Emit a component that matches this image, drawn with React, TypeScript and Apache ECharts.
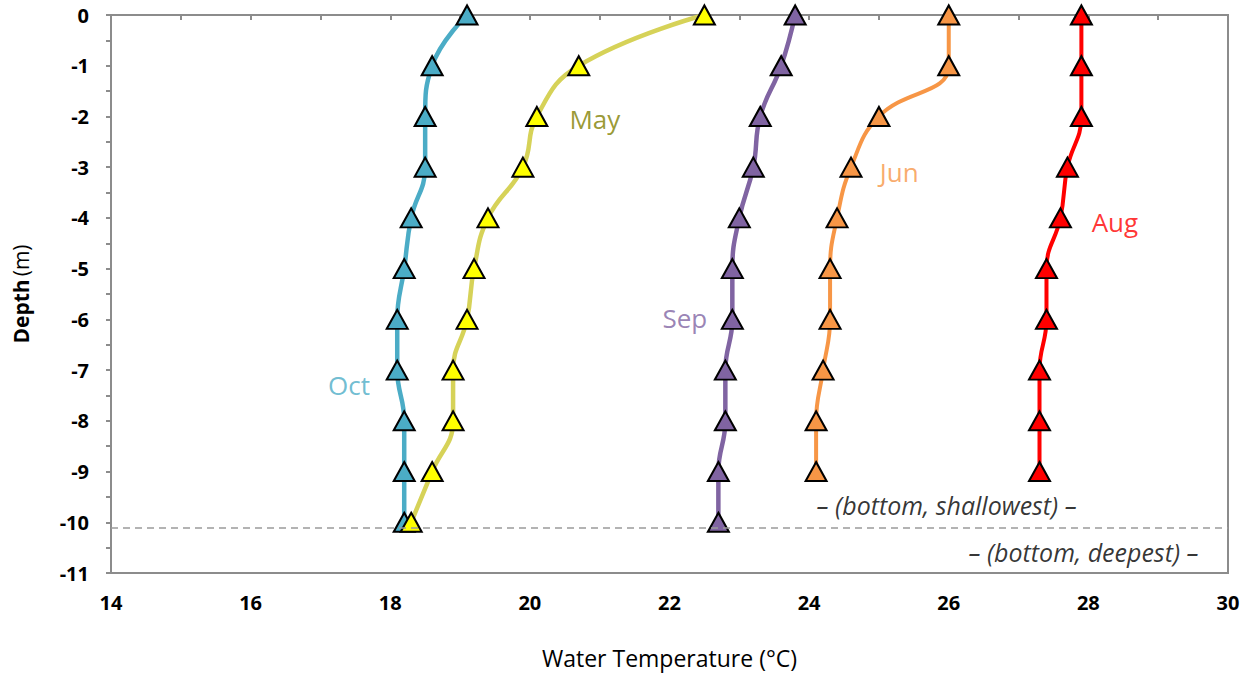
import React, { useEffect, useRef } from "react";
import * as echarts from "echarts";

const depths = [0, -1, -2, -3, -4, -5, -6, -7, -8, -9, -10];
const octTemps = [19.1, 18.6, 18.5, 18.5, 18.3, 18.2, 18.1, 18.1, 18.2, 18.2, 18.2];
const mayTemps = [22.5, 20.7, 20.1, 19.9, 19.4, 19.2, 19.1, 18.9, 18.9, 18.6, 18.3];
const sepTemps = [23.8, 23.6, 23.3, 23.2, 23.0, 22.9, 22.9, 22.8, 22.8, 22.7, 22.7];
const junTemps = [26.0, 26.0, 25.0, 24.6, 24.4, 24.3, 24.3, 24.2, 24.1, 24.1];
const augTemps = [27.9, 27.9, 27.9, 27.7, 27.6, 27.4, 27.4, 27.3, 27.3, 27.3];

const seriesNames = ["Oct", "May", "Sep", "Jun", "Aug"];
const seriesTemps = [octTemps, mayTemps, sepTemps, junTemps, augTemps];
const lineColors = ["#4BACC6", "#D6D258", "#8064A2", "#F79646", "#FF0000"];
const markerColors = ["#4BACC6", "#FFFF00", "#8064A2", "#F79646", "#FF0000"];
const labelColors = ["#4BACC6", "#808000", "#8064A2", "#F79646", "#FF0000"];
const labelPositions: [number, number][] = [
  [17.41, -7.3],
  [20.93, -2.05],
  [22.22, -5.98],
  [25.29, -3.1],
  [28.38, -4.08],
];

const bottomShallowDepth = -10.1;
const notes = ["– (bottom, shallowest) –", "– (bottom, deepest) –"];
const notePositions: [number, number][] = [
  [25.97, -9.66],
  [27.93, -10.59],
];

const FONT = "'Open Sans', Lato, sans-serif";

export default function App() {
  const ref = useRef<HTMLDivElement>(null);
  useEffect(() => {
    if (!ref.current) return;
    document.body.style.margin = "0";
    const chart = echarts.init(ref.current, undefined, { renderer: "svg" });
    const axisGray = "#8C8C8C";

    const lineSeries: any[] = seriesNames.map((name, i) => ({
      name,
      type: "line",
      data: seriesTemps[i].map((t, j) => [t, depths[j]]),
      smooth: 0.45,
      symbol: "triangle",
      symbolSize: [21, 19],
      lineStyle: { color: lineColors[i], width: i >= 3 ? 4 : 4.5 },
      itemStyle: { color: markerColors[i], borderColor: "#000", borderWidth: 2 },
      z: 3,
    }));

    lineSeries[0].markLine = {
      silent: true,
      symbol: "none",
      label: { show: false },
      lineStyle: { type: [7, 5], color: "#9A9A9A", width: 1.5 },
      data: [{ yAxis: bottomShallowDepth }],
    };

    const labelSeries = {
      type: "scatter",
      silent: true,
      symbolSize: 1,
      itemStyle: { color: "transparent" },
      z: 5,
      data: seriesNames.map((n, i) => ({
        value: labelPositions[i],
        label: {
          show: true,
          position: "inside",
          formatter: n,
          color: labelColors[i],
          fontSize: 26,
          fontFamily: FONT,
        },
      })),
    };

    const noteSeries = {
      type: "scatter",
      silent: true,
      symbolSize: 1,
      itemStyle: { color: "transparent" },
      z: 5,
      data: notes.map((n, i) => ({
        value: notePositions[i],
        label: {
          show: true,
          position: "inside",
          formatter: n,
          color: "#000",
          fontSize: 25,
          fontStyle: "italic",
          fontFamily: FONT,
        },
      })),
    };

    chart.setOption({
      animation: false,
      backgroundColor: "#fff",
      grid: {
        left: 111,
        right: 24,
        top: 15,
        bottom: 103,
        show: true,
        borderColor: axisGray,
        borderWidth: 2,
        containLabel: false,
      },
      xAxis: {
        type: "value",
        min: 14,
        max: 30,
        interval: 2,
        name: "Water Temperature (°C)",
        nameLocation: "middle",
        nameGap: 73,
        nameTextStyle: { fontSize: 23, color: "#000", fontFamily: FONT },
        axisLine: { show: true, lineStyle: { color: axisGray, width: 2 } },
        axisTick: { show: true, length: 5, lineStyle: { color: axisGray, width: 2 } },
        minorTick: { show: true, splitNumber: 2, length: 5, lineStyle: { color: axisGray, width: 2 } },
        splitLine: { show: false },
        axisLabel: { fontSize: 20, fontWeight: "bold", color: "#000", margin: 19, fontFamily: FONT },
      },
      yAxis: {
        type: "value",
        min: -11,
        max: 0,
        interval: 1,
        name: "{b|Depth} {r|(m)}",
        nameLocation: "middle",
        nameGap: 80,
        nameRotate: 90,
        nameTextStyle: {
          color: "#000",
          fontFamily: FONT,
          rich: {
            b: { fontWeight: "bold", fontSize: 21, color: "#000", fontFamily: FONT },
            r: { fontSize: 21, color: "#000", fontFamily: FONT },
          },
        },
        axisLine: { show: true, onZero: false, lineStyle: { color: axisGray, width: 2 } },
        axisTick: { show: true, length: 5, lineStyle: { color: axisGray, width: 2 } },
        minorTick: { show: true, splitNumber: 2, length: 5, lineStyle: { color: axisGray, width: 2 } },
        splitLine: { show: false },
        axisLabel: { fontSize: 20, fontWeight: "bold", color: "#000", margin: 22, fontFamily: FONT },
      },
      series: [...lineSeries, labelSeries, noteSeries],
    });
    return () => chart.dispose();
  }, []);
  return <div ref={ref} style={{ width: 1252, height: 676 }} />;
}
